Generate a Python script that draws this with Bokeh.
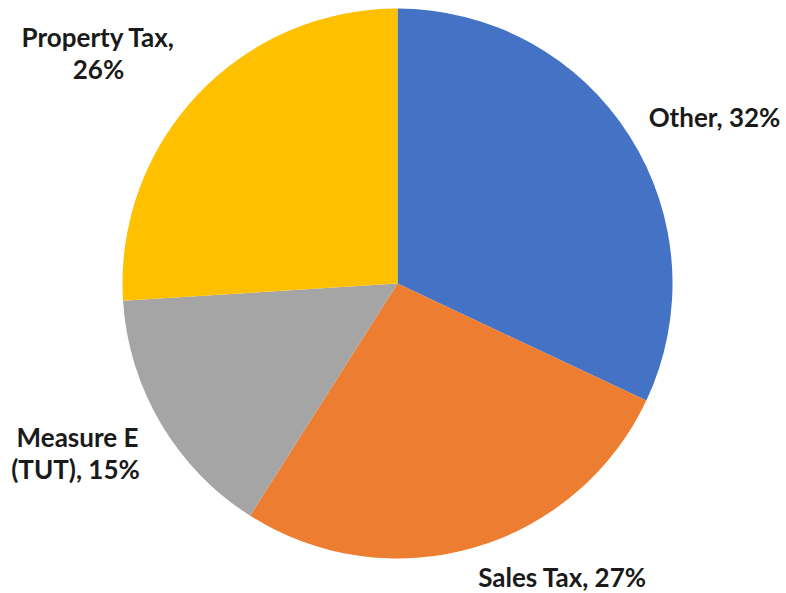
import numpy as np
from bokeh.plotting import figure
from bokeh.models import ColumnDataSource, Range1d
from bokeh.core.properties import value
from bokeh.embed import file_html
from bokeh.resources import INLINE

# data
categories = ["Other", "Sales Tax", "Measure E (TUT)", "Property Tax"]
shares = [32, 27, 15, 26]
colors = ["#4472C4", "#ED7D31", "#A5A5A5", "#FFC000"]
label_lines = [["Other, 32%"], ["Sales Tax, 27%"], ["Measure E", "(TUT), 15%"], ["Property Tax,", "26%"]]

W, H = 786, 593
p = figure(width=W, height=H, output_backend="svg", toolbar_location=None,
           x_range=Range1d(0, W), y_range=Range1d(0, H), min_border=0)
p.axis.visible = False
p.grid.visible = False
p.outline_line_color = None
p.background_fill_color = "white"
p.border_fill_color = "white"

vals = np.array(shares, dtype=float)
frac = vals / vals.sum()
cum = np.concatenate([[0], np.cumsum(frac)])
start = np.pi / 2 - 2 * np.pi * cum[:-1]
end = np.pi / 2 - 2 * np.pi * cum[1:]

cx, cy, r = 397, H - 283, 275
src = ColumnDataSource(dict(start=start, end=end, color=colors, cat=categories))
p.wedge(x=cx, y=cy, radius=r, start_angle="start", end_angle="end", direction="clock",
        fill_color="color", line_color=None, source=src)

# label layout (pixel centers of each line, from top-left)
label_pos = [[(714, 116)], [(562, 576)], [(77, 436), (75, 468)], [(98, 36), (98, 68)]]
xs, ys, ts = [], [], []
for lines, poss in zip(label_lines, label_pos):
    for t, (px, py) in zip(lines, poss):
        xs.append(px)
        ys.append(H - py)
        ts.append(t)
p.text(x=xs, y=ys, text=ts, text_font=value("Lato"), text_font_style="bold",
       text_font_size="26px", text_color="#1a1a1a", text_align="center", text_baseline="middle")

open("out.html", "w").write(file_html(p, INLINE))
